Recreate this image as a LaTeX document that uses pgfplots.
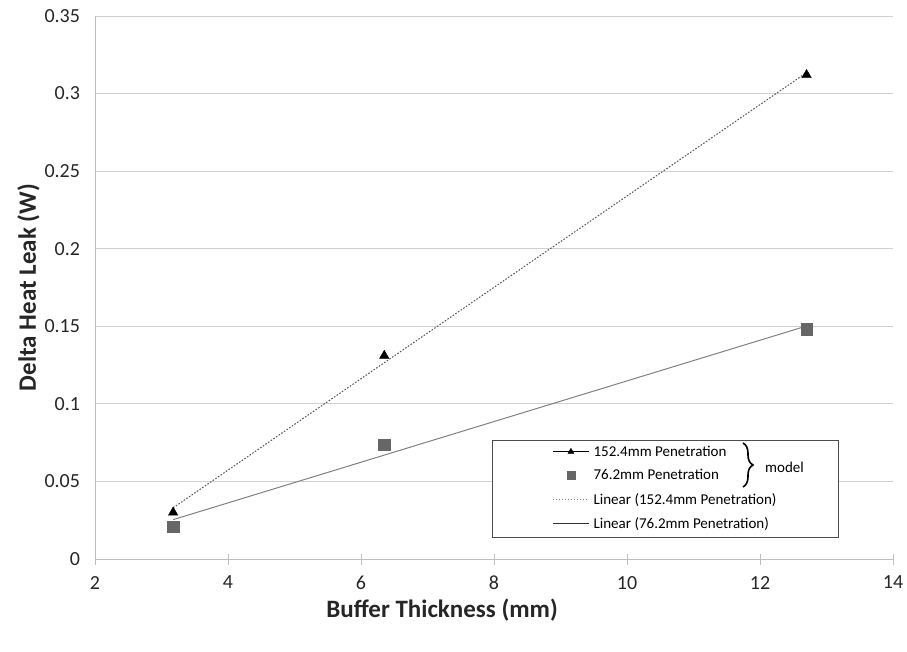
\documentclass[border=0pt]{standalone}
\usepackage{fontspec}
\setmainfont{Carlito}
\usepackage{pgfplots}
\pgfplotsset{compat=1.18}
\usepackage{pgfplotstable}
\usetikzlibrary{decorations.pathreplacing}
\definecolor{sqgray}{HTML}{666666}
\definecolor{trendgray}{HTML}{808080}
\definecolor{dotgray}{HTML}{555555}
\definecolor{gridgray}{HTML}{D0D0D0}
\definecolor{axgray}{HTML}{BFBFBF}

\pgfplotstableread{
x y
3.175 0.030
6.35 0.131
12.7 0.312
}\dataA
\pgfplotstableread{
x y
3.175 0.021
6.35 0.0735
12.7 0.148
}\dataB

\begin{document}
\begin{tikzpicture}
\useasboundingbox (-95pt,-92pt) rectangle (812pt,559pt);
\begin{axis}[
  at={(0pt,0pt)}, anchor=south west,
  scale only axis, width=798pt, height=543pt,
  xmin=2, xmax=14, ymin=0, ymax=0.35,
  xtick={2,4,6,8,10,12,14},
  ytick={0,0.05,0.1,0.15,0.2,0.25,0.3,0.35},
  axis x line*=bottom, axis y line*=left,
  axis line style={color=axgray, line width=0.9pt},
  ymajorgrids, grid style={color=gridgray, line width=0.9pt},
  ytick style={draw=none},
  xtick style={color=axgray, line width=0.9pt},
  tick align=center, major tick length=11pt,
  /pgf/number format/assume math mode=true,
  yticklabel style={/pgf/number format/fixed, /pgf/number format/precision=2, xshift=-6pt},
  xticklabel style={yshift=-8pt},
  tick label style={font=\fontsize{20}{23}\selectfont, color=black!85},
  xlabel={Buffer Thickness (mm)},
  ylabel={Delta Heat Leak (W)},
  label style={font=\bfseries\fontsize{25}{29}\selectfont, color=black!85},
  xlabel style={at={(ticklabel cs:0.435)}, yshift=-2pt},
  ylabel style={yshift=-2pt},
  legend style={draw=none, fill=none, at={(rel axis cs:0.5727,0.2125)}, anchor=north west,
    font=\fontsize{15}{18}\selectfont, inner sep=0pt, row sep=7.8pt,
    cells={anchor=west}, column sep=2pt},
  legend cell align=left,
]
\addplot[no markers, dash pattern=on 1.6pt off 1.6pt, color=dotgray, line width=1pt, forget plot]
  table[x=x, y={create col/linear regression={y=y}}]{\dataA};
\addplot[no markers, color=trendgray, line width=1pt, forget plot]
  table[x=x, y={create col/linear regression={y=y}}]{\dataB};
\addplot[only marks, mark=triangle*, mark size=5.5pt, color=black, forget plot]
  table[x=x, y=y]{\dataA};
\addplot[only marks, mark=square*, mark size=5.7pt, color=sqgray, forget plot]
  table[x=x, y=y]{\dataB};

\draw[fill=white, draw=black!70, line width=0.8pt] (rel axis cs:0.4975,0.219) rectangle (rel axis cs:0.931,0.0405);
\draw[decorate, decoration={brace, amplitude=10pt}, line width=1.6pt] (rel axis cs:0.812,0.2136) -- (rel axis cs:0.812,0.1326);
\node[anchor=west, font=\fontsize{15}{18}\selectfont, inner sep=0pt] at (rel axis cs:0.8396,0.1694) {model};

\addlegendimage{legend image code/.code={\path[draw=none,fill=none] (0pt,-5pt) rectangle (36pt,5pt); \draw[black, line width=1.4pt] (0pt,0pt) -- (36pt,0pt); \draw[black, mark=triangle*, mark size=3.5pt] plot coordinates {(18pt,0pt)};}}
\addlegendentry{152.4mm Penetration}
\addlegendimage{legend image code/.code={\path[draw=none,fill=none] (0pt,-5pt) rectangle (36pt,5pt); \draw[sqgray, mark=square*, mark size=4pt] plot coordinates {(18pt,0pt)};}}
\addlegendentry{76.2mm Penetration}
\addlegendimage{legend image code/.code={\path[draw=none,fill=none] (0pt,-5pt) rectangle (36pt,5pt); \draw[color=trendgray, dash pattern=on 1.5pt off 1.5pt, line width=0.9pt] (0pt,0pt) -- (36pt,0pt);}}
\addlegendentry{Linear (152.4mm Penetration)}
\addlegendimage{legend image code/.code={\path[draw=none,fill=none] (0pt,-5pt) rectangle (36pt,5pt); \draw[color=black!80, line width=0.8pt] (0pt,0pt) -- (36pt,0pt);}}
\addlegendentry{Linear (76.2mm Penetration)}
\end{axis}
\end{tikzpicture}
\end{document}
